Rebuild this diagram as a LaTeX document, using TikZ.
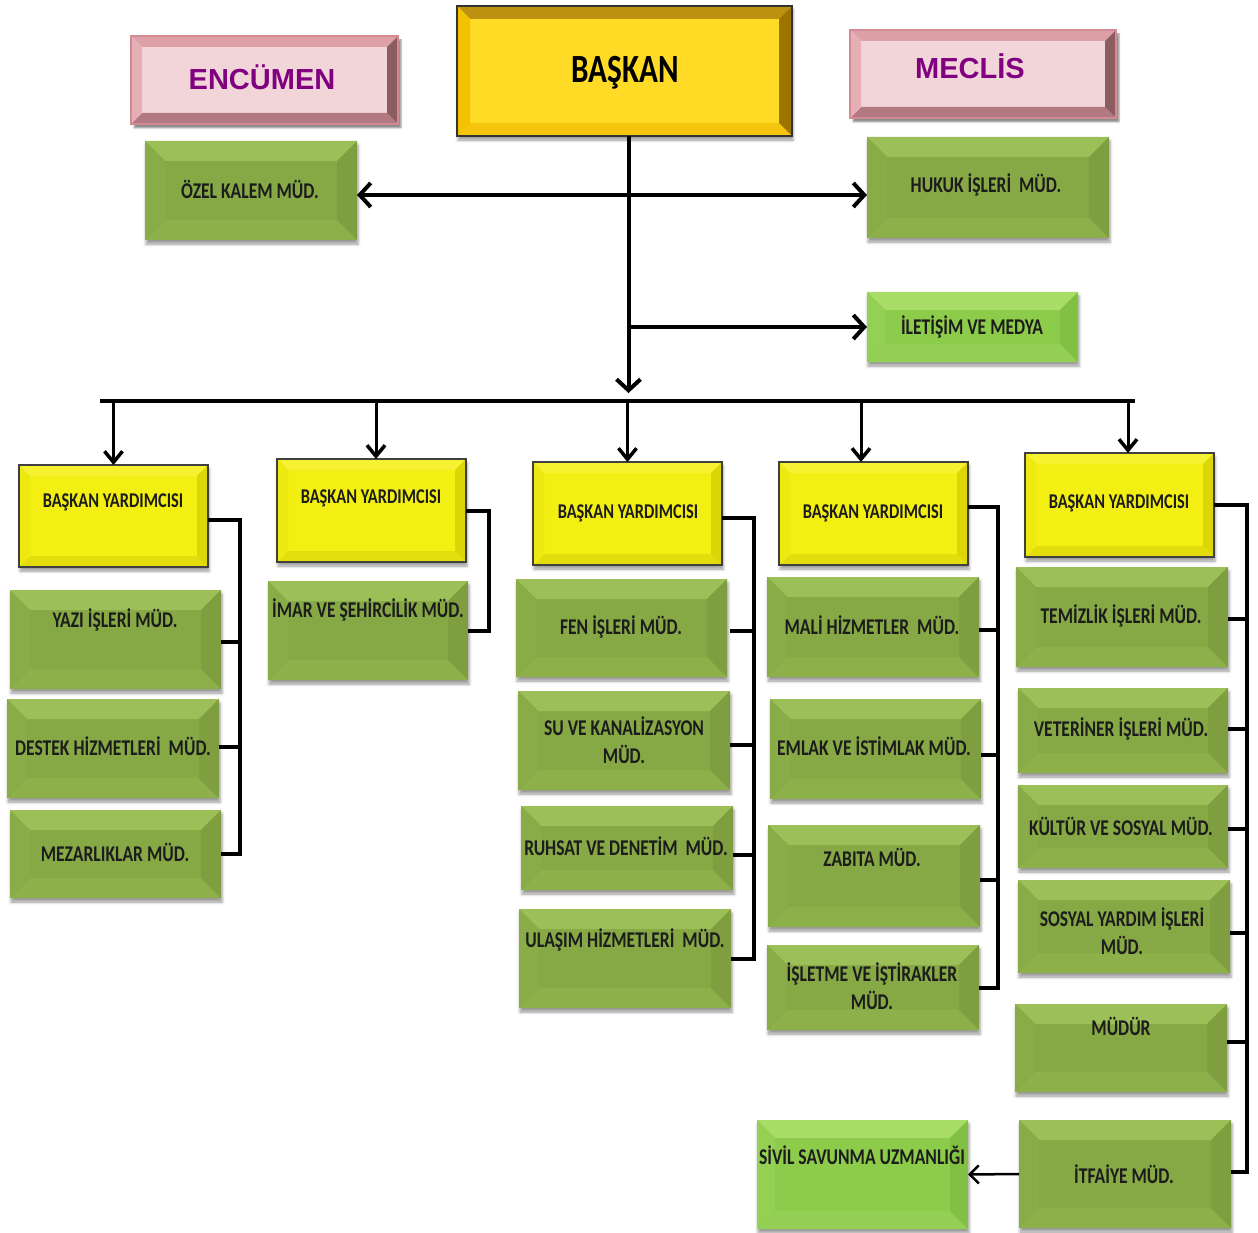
\documentclass[tikz,border=0pt]{standalone}
\usepackage{fontspec}
\setmainfont{Carlito}[FakeStretch=0.78]
\newfontfamily\arialf{Liberation Sans}
\usetikzlibrary{arrows.meta,fit,shadows.blur}
\definecolor{gbase}{HTML}{86A845}
\definecolor{gtop}{HTML}{9CBF58}
\definecolor{gbot}{HTML}{8EB04B}
\definecolor{gleft}{HTML}{8AAC48}
\definecolor{gright}{HTML}{7E9E3F}
\definecolor{lgbase}{HTML}{8DCB4B}
\definecolor{lgtop}{HTML}{A8DD68}
\definecolor{lgbot}{HTML}{94CF55}
\definecolor{lgleft}{HTML}{93D053}
\definecolor{lgright}{HTML}{82C043}
\definecolor{ybase}{HTML}{F3EF12}
\definecolor{ytop}{HTML}{F6F232}
\definecolor{ybot}{HTML}{E3DD0E}
\definecolor{yleft}{HTML}{EEE911}
\definecolor{yright}{HTML}{DCD508}
\definecolor{bbase}{HTML}{FFDB26}
\definecolor{btop}{HTML}{BC9112}
\definecolor{bbot}{HTML}{F6C60E}
\definecolor{bleft}{HTML}{F2C200}
\definecolor{bright}{HTML}{9E7400}
\definecolor{pbase}{HTML}{F2D5D9}
\definecolor{ptop}{HTML}{DDA0A7}
\definecolor{pbot}{HTML}{B27A80}
\definecolor{pleft}{HTML}{E6AEB5}
\definecolor{pright}{HTML}{8C5D60}
\definecolor{pdraw}{HTML}{D38A93}
\definecolor{purp}{HTML}{800080}
\definecolor{txtc}{HTML}{1C1C1C}
\tikzset{
  bevel/.style n args={5}{path picture={
    \path (path picture bounding box.north west) coordinate (pnw)
          (path picture bounding box.north east) coordinate (pne)
          (path picture bounding box.south west) coordinate (psw)
          (path picture bounding box.south east) coordinate (pse);
    \fill[#2] (pnw) -- (pne) -- ([shift={(-#1,-#1)}]pne) -- ([shift={(#1,-#1)}]pnw) -- cycle;
    \fill[#3] (psw) -- (pse) -- ([shift={(-#1,#1)}]pse) -- ([shift={(#1,#1)}]psw) -- cycle;
    \fill[#4] (pnw) -- (psw) -- ([shift={(#1,#1)}]psw) -- ([shift={(#1,-#1)}]pnw) -- cycle;
    \fill[#5] (pne) -- (pse) -- ([shift={(-#1,#1)}]pse) -- ([shift={(-#1,-#1)}]pne) -- cycle;
  }},
  shd/.style={blur shadow={shadow xshift=1pt,shadow yshift=-4pt,shadow blur radius=3pt,shadow opacity=40}},
  gbox/.style={inner sep=0pt,outer sep=0pt,fill=gbase,bevel={20}{gtop}{gbot}{gleft}{gright},shd},
  lgbox/.style={inner sep=0pt,outer sep=0pt,fill=lgbase,bevel={18}{lgtop}{lgbot}{lgleft}{lgright},shd},
  ybox/.style={inner sep=0pt,outer sep=0pt,draw=black!75,line width=1.5pt,fill=ybase,bevel={11}{ytop}{ybot}{yleft}{yright},shd},
  bbox/.style={inner sep=0pt,outer sep=0pt,draw=black!80,line width=1.5pt,fill=bbase,bevel={13}{btop}{bbot}{bleft}{bright},shd},
  pbox/.style={inner sep=0pt,outer sep=0pt,draw=pdraw,line width=2pt,fill=pbase,bevel={11}{ptop}{pbot}{pleft}{pright},
               blur shadow={shadow xshift=3pt,shadow yshift=-4pt,shadow blur radius=1.5pt,shadow opacity=45}},
  txt/.style={inner sep=0pt,align=center,text=txtc,font=\bfseries\fontsize{22.5}{28}\selectfont},
  ytxt/.style={inner sep=0pt,align=center,text=txtc,font=\bfseries\fontsize{21}{26}\selectfont},
  bigtxt/.style={inner sep=0pt,text=black,font=\bfseries\fontsize{40}{44}\selectfont},
  ptxt/.style={inner sep=0pt,text=purp,font=\arialf\bfseries\fontsize{29}{32}\selectfont},
  mainline/.style={line width=4pt,line cap=rect},
  bigbarb/.tip={Straight Barb[length=11pt,width=24pt,line width=4pt]},
  smallbarb/.tip={Straight Barb[length=11pt,width=18pt,line width=3.5pt]},
  thinbarb/.tip={Straight Barb[length=9pt,width=18pt,line width=2.5pt]},
  dropline/.style={line width=3pt,-smallbarb},
  brline/.style={line width=4pt},
  thinarr/.style={line width=2.5pt,-thinbarb},
}
\newcommand\obox[6]{\node[#1,fit={(#3,-#4)(#5,-#6)}] (#2) {};}
\begin{document}
\begin{tikzpicture}[x=1pt,y=1pt]
\useasboundingbox (0,0) rectangle (1258,-1233);
% top level
\obox{bbox}{baskan}{457}{6}{792}{136}
\node[bigtxt] (baskant) at (625,-73) {BAŞKAN};
\obox{pbox}{encumen}{131}{36}{398}{124}
\node[ptxt] (encument) at (262,-77) {ENCÜMEN};
\obox{pbox}{meclis}{850}{30}{1116}{118}
\node[ptxt] (meclist) at (970,-66) {MECLİS};
\obox{gbox}{ozel}{145}{141}{357}{240}
\node[txt] (ozelt) at (250,-189) {ÖZEL KALEM MÜD.};
\obox{gbox}{hukuk}{867}{137}{1109}{238}
\node[txt] (hukukt) at (986,-185) {HUKUK İŞLERİ\ \ MÜD.};
\obox{lgbox}{ilet}{867}{292}{1078}{362}
\node[txt] (iletl) at (972,-327) {İLETİŞİM VE MEDYA};
% deputies
\obox{ybox}{by1}{19}{465}{208}{567}
\node[ytxt] (by1t) at (113,-502) {BAŞKAN YARDIMCISI};
\obox{ybox}{by2}{277}{459}{466}{562}
\node[ytxt] (by2t) at (371,-498) {BAŞKAN YARDIMCISI};
\obox{ybox}{by3}{533}{462}{722}{565}
\node[ytxt] (by3t) at (628,-513) {BAŞKAN YARDIMCISI};
\obox{ybox}{by4}{779}{462}{968}{565}
\node[ytxt] (by4t) at (873,-513) {BAŞKAN YARDIMCISI};
\obox{ybox}{by5}{1025}{453}{1214}{557}
\node[ytxt] (by5t) at (1119,-503) {BAŞKAN YARDIMCISI};
% column 1
\obox{gbox}{yazi}{10}{590}{221}{689}
\node[txt] (yazit) at (115,-620) {YAZI İŞLERİ MÜD.};
\obox{gbox}{destek}{7}{699}{219}{798}
\node[txt] (destekt) at (113,-746) {DESTEK HİZMETLERİ\ \ MÜD.};
\obox{gbox}{mezar}{10}{810}{221}{898}
\node[txt] (mezart) at (115,-852) {MEZARLIKLAR MÜD.};
% column 2
\obox{gbox}{imar}{268}{581}{468}{680}
\node[txt] (imart) at (368,-610) {İMAR VE ŞEHİRCİLİK MÜD.};
% column 3
\obox{gbox}{fen}{516}{579}{727}{677}
\node[txt] (fent) at (621,-627) {FEN İŞLERİ MÜD.};
\obox{gbox}{su}{518}{691}{730}{790}
\node[txt] (sut) at (624,-740) {SU VE KANALİZASYON\\MÜD.};
\obox{gbox}{ruhsat}{521}{806}{733}{890}
\node[txt] (ruhsatt) at (626,-846) {RUHSAT VE DENETİM\ \ MÜD.};
\obox{gbox}{ulasim}{519}{909}{731}{1008}
\node[txt] (ulasimt) at (625,-940) {ULAŞIM HİZMETLERİ\ \ MÜD.};
% column 4
\obox{gbox}{mali}{767}{577}{979}{677}
\node[txt] (malit) at (872,-625) {MALİ HİZMETLER\ \ MÜD.};
\obox{gbox}{emlak}{770}{699}{981}{799}
\node[txt] (emlakt) at (874,-746) {EMLAK VE İSTİMLAK MÜD.};
\obox{gbox}{zabita}{768}{825}{980}{927}
\node[txt] (zabitat) at (872,-857) {ZABITA MÜD.};
\obox{gbox}{islet}{767}{945}{979}{1030}
\node[txt] (islett) at (872,-986) {İŞLETME VE İŞTİRAKLER\\MÜD.};
% column 5
\obox{gbox}{temiz}{1016}{567}{1228}{667}
\node[txt] (temizt) at (1121,-616) {TEMİZLİK İŞLERİ MÜD.};
\obox{gbox}{veter}{1018}{688}{1228}{773}
\node[txt] (vetert) at (1121,-729) {VETERİNER İŞLERİ MÜD.};
\obox{gbox}{kultur}{1018}{785}{1228}{868}
\node[txt] (kulturt) at (1121,-826) {KÜLTÜR VE SOSYAL MÜD.};
\obox{gbox}{sosyal}{1018}{880}{1230}{973}
\node[txt] (sosyalt) at (1122,-931) {SOSYAL YARDIM İŞLERİ\\MÜD.};
\obox{gbox}{mudur}{1015}{1004}{1227}{1092}
\node[txt] (mudurt) at (1121,-1026) {MÜDÜR};
\obox{gbox}{itfaiye}{1019}{1120}{1231}{1228}
\node[txt] (itfaiyet) at (1124,-1174) {İTFAİYE MÜD.};
\obox{lgbox}{sivil}{757}{1120}{968}{1229}
\node[txt] (sivilt) at (862,-1155) {SİVİL SAVUNMA UZMANLIĞI};
% connectors
\coordinate (busL) at (102,-401);
\coordinate (busR) at (1133,-401);
\coordinate (jb) at (629,-401);
\coordinate (hl) at (629,-195);
\coordinate (jm) at (629,-327);
\draw[line width=4pt,-bigbarb,shorten >=8pt] ([xshift=4pt]baskan.south) -- ([xshift=4pt]baskan.south |- jb);
\draw[line width=4pt,bigbarb-bigbarb] (ozel.east |- hl) -- (hukuk.west |- hl);
\draw[line width=4pt,-bigbarb] (jm) -- (ilet.west);
\draw[mainline] (busL) -- (busR);
\draw[dropline] (by1.north |- busL) -- (by1.north);
\draw[dropline] ([xshift=4.5pt]by2.north |- busL) -- ([xshift=4.5pt]by2.north);
\draw[dropline] (by3.north |- busL) -- (by3.north);
\draw[dropline] ([xshift=-12.5pt]by4.north |- busL) -- ([xshift=-12.5pt]by4.north);
\draw[dropline] ([xshift=8.5pt]by5.north |- busR) -- ([xshift=8.5pt]by5.north);
% brackets
\coordinate (c1) at (240,0);
\coordinate (c2) at (489,0);
\coordinate (c3) at (754,0);
\coordinate (c4) at (998,0);
\coordinate (c5) at (1247,0);
\draw[brline] ([yshift=-4pt]by1.east) -- ([yshift=-4pt]by1.east -| c1) -- (mezar.east -| c1) -- (mezar.east);
\draw[brline] ([yshift=-2pt]yazi.east) -- ([yshift=-2pt]yazi.east -| c1);
\draw[brline] ([yshift=2pt]destek.east) -- ([yshift=2pt]destek.east -| c1);
\draw[brline] (by2.east) -- (by2.east -| c2) -- (imar.east -| c2) -- (imar.east);
\draw[brline] ([yshift=-4pt]by3.east) -- ([yshift=-4pt]by3.east -| c3) -- (ulasim.east -| c3) -- (ulasim.east);
\draw[brline] ([xshift=3pt,yshift=-3pt]fen.east) -- ([yshift=-3pt]fen.east -| c3);
\draw[brline] ([yshift=-4pt]su.east) -- ([yshift=-4pt]su.east -| c3);
\draw[brline] ([yshift=-7pt]ruhsat.east) -- ([yshift=-7pt]ruhsat.east -| c3);
\draw[brline] ([yshift=7pt]by4.east) -- ([yshift=7pt]by4.east -| c4) -- (islet.east -| c4) -- (islet.east);
\draw[brline] ([yshift=-3pt]mali.east) -- ([yshift=-3pt]mali.east -| c4);
\draw[brline] ([yshift=-6pt]emlak.east) -- ([yshift=-6pt]emlak.east -| c4);
\draw[brline] ([yshift=-4pt]zabita.east) -- ([yshift=-4pt]zabita.east -| c4);
\draw[brline] (by5.east) -- (by5.east -| c5) -- ([yshift=2pt]itfaiye.east -| c5) -- ([yshift=2pt]itfaiye.east);
\draw[brline] ([yshift=-2pt]temiz.east) -- ([yshift=-2pt]temiz.east -| c5);
\draw[brline] ([yshift=2pt]veter.east) -- ([yshift=2pt]veter.east -| c5);
\draw[brline] ([yshift=-2pt]kultur.east) -- ([yshift=-2pt]kultur.east -| c5);
\draw[brline] ([yshift=-6pt]sosyal.east) -- ([yshift=-6pt]sosyal.east -| c5);
\draw[brline] ([yshift=6pt]mudur.east) -- ([yshift=6pt]mudur.east -| c5);
\draw[thinarr] (itfaiye.west) -- (sivil.east);
\end{tikzpicture}
\end{document}
